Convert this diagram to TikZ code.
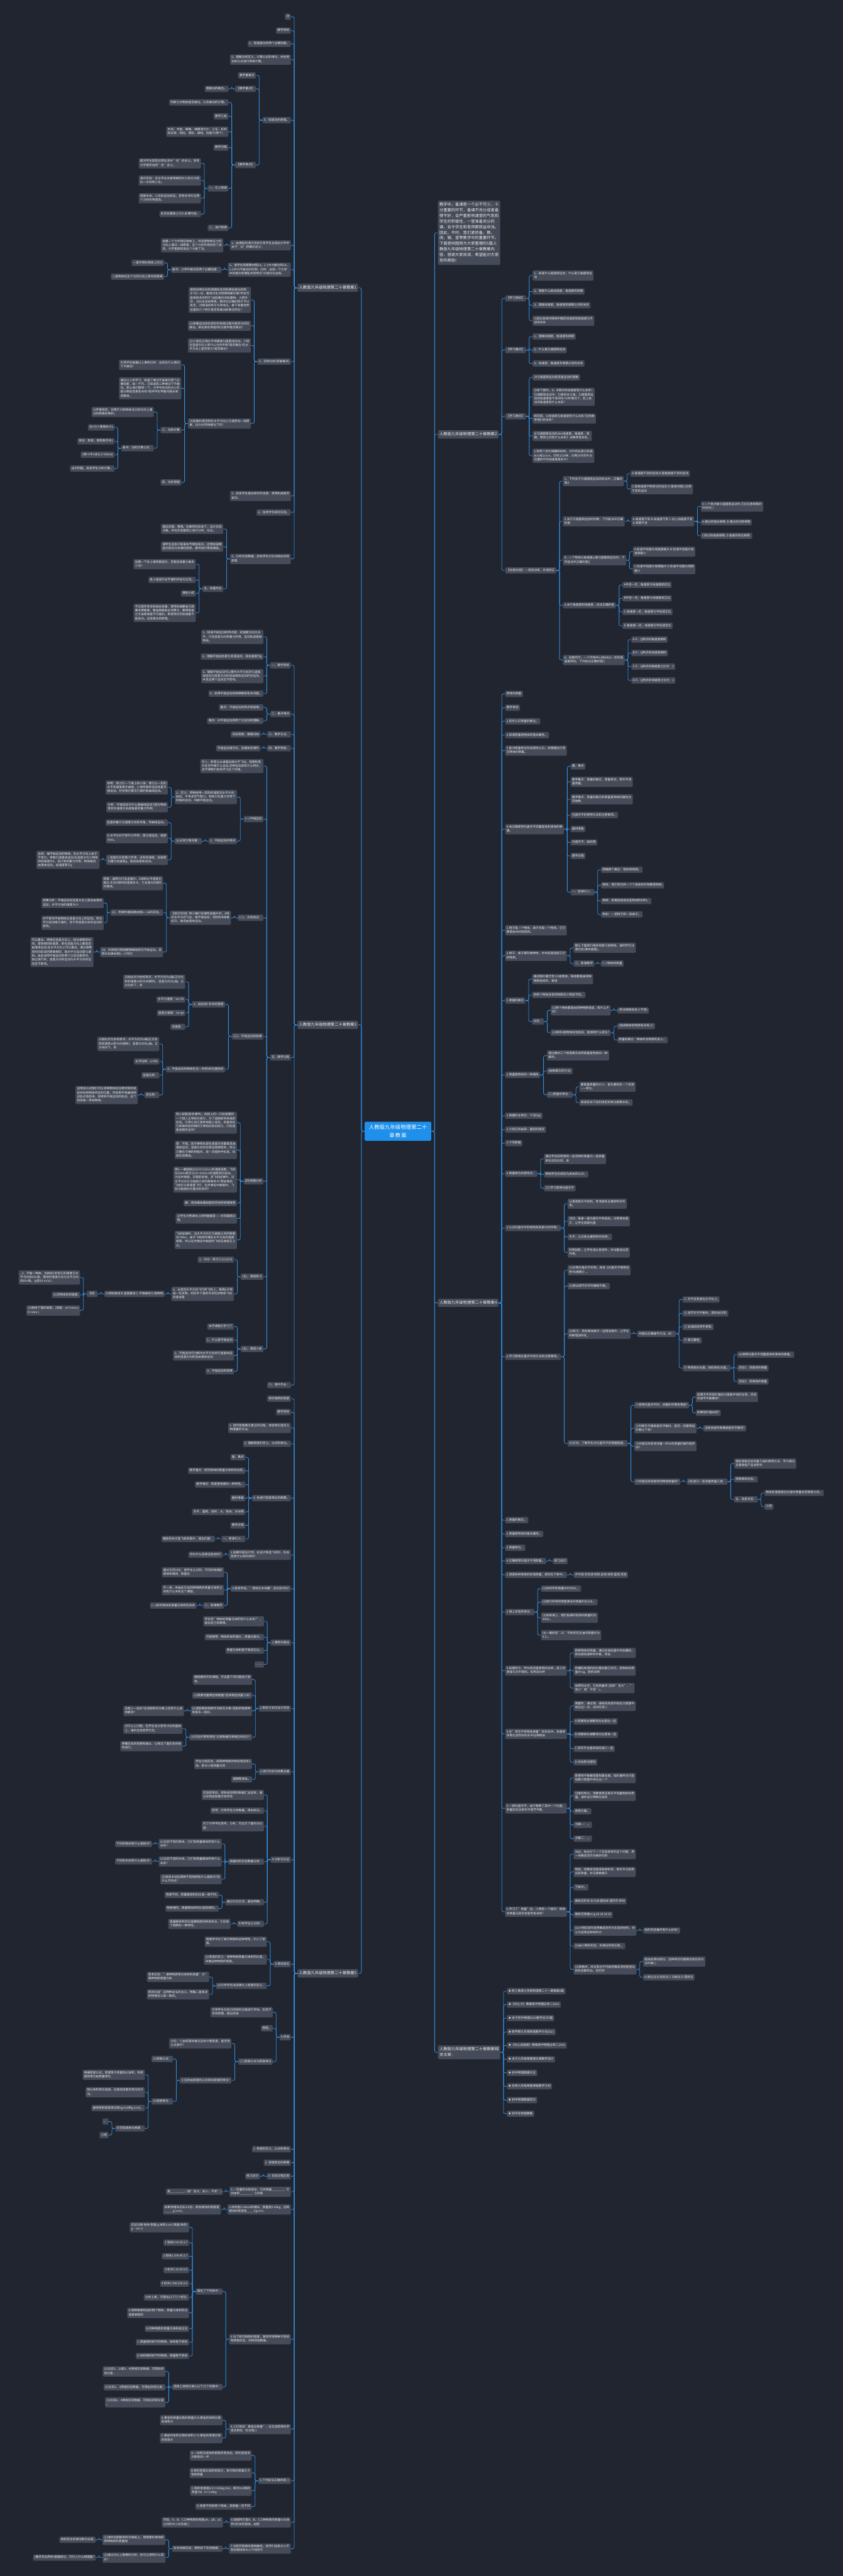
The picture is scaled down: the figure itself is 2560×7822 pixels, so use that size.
\documentclass[tikz,border=0pt]{standalone}
\usepackage{fontspec}
\setmainfont{Noto Sans CJK SC}
\usepackage{varwidth}
\usepackage{tikz}
\XeTeXlinebreaklocale "zh"
\XeTeXlinebreakskip=0pt plus 1pt
\definecolor{bgdark}{HTML}{21252F}
\definecolor{nodegray}{HTML}{454B58}
\definecolor{linkblue}{HTML}{2F8FE3}
\definecolor{rootblue}{HTML}{1E8FEA}

\tikzset{
  leaf/.style={fill=nodegray, rounded corners=3pt, text=white!92!black,
    font=\fontsize{9}{12}\selectfont, inner xsep=4.5pt, inner ysep=3.5pt,
    execute at begin node={\begin{varwidth}{184pt}\raggedright\strut},
    execute at end node={\strut\end{varwidth}}},
  branch/.style={leaf, font=\fontsize{12}{17}\selectfont, inner ysep=4pt},
  intro/.style={branch},
  root/.style={fill=rootblue, rounded corners=4pt, text=white,
    font=\fontsize{16}{24}\selectfont, align=center, text width=180pt,
    minimum width=202pt, minimum height=58pt},
  link/.style={draw=linkblue, line width=1.6pt, rounded corners=5pt},
}

% child to the right of its parent
\newcommand{\kidR}[5][leaf]{%
  \path (#3.east) ++(20pt,0) coordinate (tx);
  \coordinate (ty) at (0,#4);
  \node[#1, anchor=west] (#2) at (tx |- ty) {#5};
  \draw[link] (#3.east) -- ++(10pt,0) |- (#2.west);}
% child to the left of its parent
\newcommand{\kidL}[5][leaf]{%
  \path (#3.west) ++(-20pt,0) coordinate (tx);
  \coordinate (ty) at (0,#4);
  \node[#1, anchor=east] (#2) at (tx |- ty) {#5};
  \draw[link] (#3.west) -- ++(-10pt,0) |- (#2.east);}

\begin{document}
\begin{tikzpicture}[x=1pt,y=-1pt]
\fill[bgdark] (0,0) rectangle (2560,7822);
\node[root] (root) at (1209,3435) {人教版九年级物理第二十\\章教案};

% ---------- right side ----------
\kidR[intro]{I}{root}{707}{教学中，备课是一个必不可少、十分重要的环节，备课不充分或者备得不好，会严重影响课堂的气氛和学生的积极性，一堂准备充分的课，会令学生和老师都获益非浅。因此，平时，我们紧抓备、教、改、辅、查等教学中的重要环节。下面是树图网为大家整理的5篇人教版九年级物理第二十章教案内容，感谢大家阅读，希望能对大家有所帮助!}

\kidR[branch]{B}{root}{1319}{人教版九年级物理第二十章教案2}
\kidR{B1}{B}{906}{【学习目标】}
  \kidR{B11}{B1}{837}{1、知道什么是圆周运动，什么是匀速圆周运动}
  \kidR{B12}{B1}{885}{2、理解什么是线速度、角速度和周期}
  \kidR{B13}{B1}{927}{3、理解线速度、角速度和周期之间的关系}
  \kidR{B14}{B1}{974}{4.能在具体的情境中确定线速度和角速度与半径的关系}
\kidR{B2}{B}{1063}{【学习重点】}
  \kidR{B21}{B2}{1022}{1、理解线速度、角速度和周期}
  \kidR{B22}{B2}{1063}{2、什么是匀速圆周运动}
  \kidR{B23}{B2}{1104}{3、线速度、角速度及周期之间的关系}
\kidR{B3}{B}{1264}{【学习难点】}
  \kidR{B31}{B3}{1146}{对匀速圆周运动是变速运动的理解}
  \kidR{B32}{B3}{1205}{分析下图中，A、B两点的线速度有什么关系?匀速圆周运动中，匀速的含义是。匀速圆周运动的线速度是不变的吗?分析情况下，轮上各点的角速度有什么关系?}
  \kidR{B33}{B3}{1271}{探究四、1)线速度与角速度有什么关系?怎样推导他们的关系?}
  \kidR{B34}{B3}{1324}{2)匀速圆周运动的den线速度，角速度，周期，频率之间有什么关系》试推导其关系。}
  \kidR{B35}{B3}{1384}{1.有两个走时准确的始终，分针的长度分别是8cm和10cm，历经15分钟，问两分针的叶尖位置的平均线速度是多大?}
\kidR{B4}{B}{1732}{【当堂检测】----有效训练、反馈矫正}
  \kidR{B41}{B4}{1461}{1、下列关于匀速圆周运动的说法中，正确的是()}
    \kidR{B411}{B41}{1438}{A.是速度不变的运动 B.是角速度不变的运动}
    \kidR{B412}{B41}{1485}{C.是角速度不断变化的运动 D.是相对圆心位移不变的运动}
  \kidR{B42}{B4}{1583}{2.关于匀速圆周运动的判断，下列说法中正确的是}
    \kidR{B421}{B42}{1583}{A.角速度不变 B.线速度不变 C.向心加速度不变 D.周期不变}
      \kidR{B4211}{B421}{1538}{3 一个质点做匀速圆周运动时,它在任意相等的时间内( )}
      \kidR{B4212}{B421}{1586}{A 通过的弧长相等; B 通过的位移相等}
      \kidR{B4213}{B421}{1627}{C转过的角度相等; D 速度的变化相等.}
  \kidR{B43}{B4}{1701}{4、一个物体以角速度ω做匀速圆周运动时，下列说法中正确的是()}
    \kidR{B431}{B43}{1675}{A.轨道半径越大线速度越大 B.轨道半径越大线速度越小}
    \kidR{B432}{B43}{1728}{C.轨道半径越大周期越大 D.轨道半径越大周期越小}
  \kidR{B44}{B4}{1838}{5.关于角速度和线速度，说法正确的是}
    \kidR{B441}{B44}{1776}{A半径一定，角速度与线速度成反比}
    \kidR{B442}{B44}{1817}{B半径一定，角速度与线速度成正比}
    \kidR{B443}{B44}{1858}{C.线速度一定，角速度与半径成正比}
    \kidR{B444}{B44}{1900}{D.角速度一定，线速度与半径成反比}
  \kidR{B45}{B4}{2004}{6、如图所示，一个环绕中心线AB以一定的角速度转动，下列说法正确的是()}
    \kidR{B451}{B45}{1942}{A.P、Q两点的角速度相同}
    \kidR{B452}{B45}{1983}{B.P、Q两点的线速度相同}
    \kidR{B453}{B45}{2024}{C.P、Q两点的角速度之比为：1}
    \kidR{B454}{B45}{2066}{D.P、Q两点的线速度之比为：1}

\kidR[branch]{D}{root}{3956}{人教版九年级物理第二十章教案4}
\kidR{D01}{D}{2107}{物体的质量}
\kidR{D02}{D}{2149}{教学目标}
\kidR{D03}{D}{2190}{1.初步认识质量的概念。}
\kidR{D04}{D}{2232}{2.知道质量是物体的基本属性。}
\kidR{D05}{D}{2279}{3.能对质量单位形成感性认识，会粗略估计常见物体的质量。}
\kidR{D06}{D}{2518}{4.会正确使用托盘天平测量固体和液体的质量。}
  \kidR{D061}{D06}{2327}{重、难点}
  \kidR{D062}{D06}{2374}{教学重点：质量的概念，质量单位，用天平测量质量。}
  \kidR{D063}{D06}{2427}{教学难点：质量的概念和质量是物体的属性比较抽象;}
  \kidR{D064}{D06}{2475}{托盘天平的使用方法和注意事项。}
  \kidR{D065}{D06}{2517}{器材准备}
  \kidR{D066}{D06}{2558}{托盘天平、砝码等}
  \kidR{D067}{D06}{2599}{教学过程}
  \kidR{D068}{D06}{2709}{一、新课引入：}
    \kidR{D0681}{D068}{2641}{明确两个概念：物体和物质。}
    \kidR{D0682}{D068}{2688}{物体：我们常见的一个个具体的实物都是物体;}
    \kidR{D0683}{D068}{2736}{物质：则是指组成这些物体的材料。}
    \kidR{D0684}{D068}{2777}{例如：一把椅子和一张桌子。}
\kidR{D07}{D}{2825}{1.椅子是一个物体，桌子也是一个物体，它们都是由木材组成的。}
\kidR{D08}{D}{2902}{2.椅子、桌子都叫做物体，木材就是组成它们的物质。}
  \kidR{D081}{D08}{2878}{那么下面我们再来观察几组物体，请同学们注意比较(课本插图)。}
  \kidR{D082}{D08}{2926}{二、新课教学}
    \kidR{D0821}{D082}{2926}{(一)物体的质量}
\kidR{D09}{D}{3038}{1.质量的概念}
  \kidR{D091}{D09}{2973}{通过图片展示至少3组物体，每组都是由同种物质组成的，每组}
  \kidR{D092}{D09}{3021}{的两个物体含有的物质多少明显不同。}
  \kidR{D093}{D09}{3102}{比较：}
    \kidR{D0931}{D093}{3068}{(1)两个物体都是由同种物质组成，有什么不同?}
      \kidR{D09311}{D0931}{3068}{(所含物质的多少不同)}
    \kidR{D0932}{D093}{3136}{(2)再将3组物体综合起来，能得到什么结论?}
      \kidR{D09321}{D0932}{3116}{(组成物体的物质有多有少)}
      \kidR{D09322}{D0932}{3158}{质量的概念：物体所含物质的多少。}
\kidR{D10}{D}{3264}{2.质量是物体的一种属性}
  \kidR{D101}{D10}{3205}{通过教材三个物理事实说明质量是物体的一种属性。}
  \kidR{D102}{D10}{3252}{(抽象概念的方法)}
  \kidR{D103}{D10}{3324}{(二)质量的单位：}
    \kidR{D1031}{D103}{3300}{要衡量质量的大小，首先要规定一个标准——单位。}
    \kidR{D1032}{D103}{3348}{阅读有关千克的规定和单位换算关系。}
\kidR{D11}{D}{3388}{1.质量的主单位：千克(kg)}
\kidR{D12}{D}{3430}{2.介绍它的由来：最初的规定}
\kidR{D13}{D}{3471}{3.千克原器}
\kidR{D14}{D}{3564}{4.质量单位的感性化：}
  \kidR{D141}{D14}{3519}{通过学生较熟悉的一些实物的质量与一些质量单位近似比较，来}
  \kidR{D142}{D14}{3566}{帮助学生形成较为具体的认识。}
  \kidR{D143}{D14}{3608}{(三)学习使用托盘天平}
\kidR{D15}{D}{3729}{1.认识托盘天平的结构及各部分的作用。}
  \kidR{D151}{D15}{3655}{认真观察天平结构，弄清楚各主要部件的作用。}
  \kidR{D152}{D15}{3708}{活动：每桌一套托盘天平和砝码，对照课本图示，让学生观察托盘}
  \kidR{D153}{D15}{3756}{天平，认识各主要部件的名称。}
  \kidR{D154}{D15}{3803}{利用投影，让学生指认各部件，并试着说出其作用。}
\kidR{D16}{D}{4120}{2.学习使用托盘天平的方法和注意事项。}
  \kidR{D161}{D16}{3857}{(1)对照托盘天平实物，阅读《托盘天平使用说明书(摘要)》。}
  \kidR{D162}{D16}{3905}{(2)尝试调节天平的横梁平衡。}
  \kidR{D163}{D16}{4050}{(3)练习：用多媒体展示一些错误操作，让学生判断错误所在,}
    \kidR{D1631}{D163}{4050}{并提出正确操作方法。如：}
      \kidR{D16311}{D1631}{3946}{① 天平没有放在水平台上;}
      \kidR{D16312}{D1631}{3988}{② 调节天平平衡时，游码未归零;}
      \kidR{D16313}{D1631}{4029}{③ 加减砝码用手拿取;}
      \kidR{D16314}{D1631}{4070}{④ 超过量程;}
      \kidR{D16315}{D1631}{4154}{⑤ 物体放在右盘，砝码放在左盘。}
        \kidR{D163151}{D16315}{4113}{(a)使用托盘天平测量固体和液体的质量。}
        \kidR{D163152}{D16315}{4154}{活动1：测固体的质量}
        \kidR{D163153}{D16315}{4195}{活动2：测液体的质量}
  \kidR{D164}{D16}{4383}{(4)交流，了解学生对托盘天平的掌握程度。}
    \kidR{D1641}{D164}{4267}{①使用托盘天平时，关键的步骤有哪些?}
      \kidR{D16411}{D1641}{4242}{如果天平的指针偏向分度盘中线的左侧，应如何调节平衡螺母?}
      \kidR{D16412}{D1641}{4290}{如果指针偏右呢?}
    \kidR{D1642}{D164}{4337}{②判断天平横梁是否平衡时，是否一定要等指针静止下来?}
      \kidR{D16421}{D1642}{4337}{怎样快速判断横梁是否平衡呢?}
    \kidR{D1643}{D164}{4391}{③你是怎样安排测量一杯水的质量的操作程序的?}
    \kidR{D1644}{D164}{4499}{④你是怎样读取待测物体质量的?}
      \kidR{D16441}{D1644}{4499}{(四)其它一些测量质量工具：}
        \kidR{D164411}{D16441}{4444}{课后调查这些测量工具的使用方法，学习通过互联网或产品说明书}
        \kidR{D164412}{D16441}{4492}{获取相关信息。}
        \kidR{D164413}{D16441}{4553}{五、信息浏览：}
          \kidR{D1644131}{D164413}{4533}{物体的速度接近光速时质量会变得极大的。}
          \kidR{D1644132}{D164413}{4575}{小结}
\kidR{D17}{D}{4616}{1.质量的概念。}
\kidR{D18}{D}{4658}{2.质量是物体的基本属性。}
\kidR{D19}{D}{4700}{3.质量单位。}
\kidR{D20}{D}{4740}{4.正确使用托盘天平测质量。}
  \kidR{D201}{D20}{4740}{练习设计}
\kidR{D21}{D}{4782}{1.调查各种球类的标准质量，填写在下表中。}
  \kidR{D211}{D21}{4782}{乒乓球 羽毛球 网球 垒球 排球 篮球 足球}
\kidR{D22}{D}{4895}{2.填上合适的单位：}
  \kidR{D221}{D22}{4824}{(1)你同学的质量大约为60 。}
  \kidR{D222}{D22}{4865}{(2)我们所用的物理课本的质量约为200 。}
  \kidR{D223}{D22}{4912}{(3)体育课上，我们投掷的铅球的质量约为4000 。}
  \kidR{D224}{D22}{4965}{(4)一桶标有"5L"字样的花生油的质量约为4.2 。}
\kidR{D23}{D}{5073}{3.如图所示，甲为商店里使用的台秤，其工作原理与天平相同。现用该台秤}
  \kidR{D231}{D23}{5019}{称某物体的质量，通过在砝码盘中添加槽码，移动游码使秤杆平衡，所加}
  \kidR{D232}{D23}{5073}{的槽码和游码的位置如图乙所示，该物体的质量为 kg。若把该物}
  \kidR{D233}{D23}{5126}{体带到太空，它的质量将 (选择"变大"、"变小"或"不变")。}
\kidR{D24}{D}{5265}{4.在"用天平称物体质量"的实验中，张强同学用已调节好的天平在称物体}
  \kidR{D241}{D24}{5180}{质量时，通过增、减砝码后指针指在分度盘中线左边一点，这时应该( )}
  \kidR{D242}{D24}{5227}{A.把横梁右端螺母向右旋出一些}
  \kidR{D243}{D24}{5268}{B.把横梁右端螺母向左旋进一些}
  \kidR{D244}{D24}{5310}{C.把天平右盘的砝码减少一些}
  \kidR{D245}{D24}{5351}{D.向右移动游码}
\kidR{D25}{D}{5491}{5.一架托盘天平，由于更换了其中一个托盘，称量前无法把天平调节平衡，}
  \kidR{D251}{D25}{5399}{即使把平衡螺母旋到最右端，指针最终也只能指着分度盘中央左边一个}
  \kidR{D252}{D25}{5453}{分度的地方。现要使用这架天平测量物体的质量，请你设计两种应急的}
  \kidR{D253}{D25}{5500}{使用方案。}
  \kidR{D254}{D25}{5541}{方案一： 。}
  \kidR{D255}{D25}{5583}{方案二： 。}
\kidR{D26}{D}{5805}{6.学习了"质量"后，小明有一个疑问：物体的质量与其形状是否有关呢?}
  \kidR{D261}{D26}{5630}{为此，他设计了一个实验来探究这个问题：用一块橡皮泥作为被研究的}
  \kidR{D262}{D26}{5684}{物体，将橡皮泥捏成各种形状，用天平分别称出其质量，并记录数据于}
  \kidR{D263}{D26}{5731}{下表中。}
  \kidR{D264}{D26}{5773}{橡皮泥形状 长方体 圆柱体 圆环形 碎块}
  \kidR{D265}{D26}{5814}{橡皮泥质量m/g 28 28 28 28}
  \kidR{D266}{D26}{5862}{(1)小明实验时选用橡皮泥作为实验的材料，你认为选用这种材料对}
    \kidR{D2661}{D266}{5862}{他的实验操作有什么好处?}
  \kidR{D267}{D26}{5909}{(2)由小明的实验，你得出的结论是 。}
  \kidR{D268}{D26}{5980}{(3)表格中，并没有也不可能将橡皮泥所能捏出的形状都列出，但仍然}
    \kidR{D2681}{D268}{5956}{能由此得出结论，这种研究问题得出结论的方法叫做( )}
    \kidR{D2682}{D268}{6004}{A.类比法 B.综合法 C.归纳法 D.等效法}

\kidR[branch]{F}{root}{6232}{人教版九年级物理第二十章教案相关文章：}
\kidR{F1}{F}{6046}{★ 新人教版九年级物理第二十一章教案5篇}
\kidR{F2}{F}{6087}{★《向心力》教案高中物理必修二2021}
\kidR{F3}{F}{6128}{★ 关于初中物理2021教学设计5篇}
\kidR{F4}{F}{6170}{★ 新学期九年级物理教学计划2021}
\kidR{F5}{F}{6211}{★《向心加速度》教案高中物理必修二2021}
\kidR{F6}{F}{6253}{★ 关于九年级物理理论课教学设计}
\kidR{F7}{F}{6294}{★ 初中物理教案大全}
\kidR{F8}{F}{6335}{★ 优秀九年级物理课程教学计划}
\kidR{F9}{F}{6377}{★ 初中物理教案范文}
\kidR{F10}{F}{6418}{★ 初中生物理教案}

% ---------- left side ----------
\kidL[branch]{A}{root}{874}{人教版九年级物理第二十章教案1}
\kidL{A01}{A}{51}{功}
\kidL{A02}{A}{93}{教学目标}
\kidL{A03}{A}{133}{1、知道做功的两个必要因素。}
\kidL{A04}{A}{181}{2、理解功的定义、计算公式和单位，并会用功的公式进行简单计算。}
\kidL{A05}{A}{365}{3、知道功的原理。}
  \kidL{A051}{A05}{229}{教学重难点}
  \kidL{A052}{A05}{270}{【教学重点】}
    \kidL{A0521}{A052}{270}{理解功的概念。}
  \kidL{A053}{A05}{501}{【教学难点】}
    \kidL{A0531}{A053}{311}{判断力对物体是否做功，以及做功的计算。}
    \kidL{A0532}{A053}{353}{教学工具}
    \kidL{A0533}{A053}{400}{木块、木板、细绳、弹簧测力计、小车，杠杆和支架、钩码、滑轮、细线、刻度尺(两个)}
    \kidL{A0534}{A053}{448}{教学过程}
    \kidL{A0535}{A053}{572}{一、引入新课}
      \kidL{A05351}{A0535}{496}{提问学生回答日常生活中"功"的含义。思考力学里所说的"功"含义。}
      \kidL{A05352}{A0535}{548}{演示实验：在水平长木板用相同大小的力分别拉一木块和小车。}
      \kidL{A05353}{A0535}{602}{观察木块、小车的运动状态，思考并评价这两个力的作用成效。}
      \kidL{A05354}{A0535}{650}{在实验基础上引入本课内容。}
    \kidL{A0536}{A053}{692}{二、进行新课}
\kidL{A06}{A}{745}{1、由课前的演示实验引导学生总结出力学中关于"功"的确切含义：}
  \kidL{A061}{A06}{745}{如果一个力作用在物体上，并且使物体在力的方向上通过一段距离，这个力的作用就有了成效，力学里面就说这个力做了功。}
\kidL{A07}{A}{819}{2、请学生观察教材图14。1-1中力做功和14。1-2中力不做功的实例，分析、总结一下力学中的做功有哪些共同特点?分组讨论总结。}
  \kidL{A071}{A07}{819}{板书：力学中做功的两个必要因素：}
    \kidL{A0711}{A071}{798}{一是作用在物体上的力}
    \kidL{A0712}{A071}{840}{二是物体在这个力的方向上移动的距离}
\kidL{A08}{A}{1098}{3、实例分析(突破难点)}
  \kidL{A081}{A08}{911}{举例说明在你的周围你发现有哪些做功的例子?比一比，看谁对生活观察得最仔细?学生可能举很多的例子?如起重机吊起重物、火箭升空、马拉车前进等等。教师对正确的例子予以肯定，对错误的例子引导改正。接下来看老师这里的几个例子是否有做功的情况存在?}
  \kidL{A082}{A08}{989}{(1)举重运动员在把杠铃举高过程中是否对杠铃做功。举在高处停留5秒过程中是否做功?}
  \kidL{A083}{A08}{1049}{(2)小球在光滑水平地面做匀速直线运动。小球在竖直方向上受什么力的作用?是否做功?在水平方向上是否受力?是否做功?}
  \kidL{A084}{A08}{1286}{(3)起重机使货物在水平方向上匀速移动一段距离，拉力对货物做功了吗?}
    \kidL{A0841}{A084}{1108}{引导学生根据以上事例分析、总结在什么情况下不做功?}
    \kidL{A0842}{A084}{1179}{通过以上的学习，知道了做功不能离开两个必要因素，缺一不可，又知道有三种情况下不做功。那么我们猜想一下，力学中的功的大小可能与哪些因素有关呢?指导学生带着问题去阅读教材。}
    \kidL{A0843}{A084}{1306}{三、功的计算}
      \kidL{A08431}{A0843}{1251}{力学里规定，功等于力和物体沿力的方向上通过的距离的乘积。}
      \kidL{A08432}{A0843}{1361}{板书：功的计算公式：}
        \kidL{A084321}{A08432}{1298}{功=力×距离W=Fs}
        \kidL{A084322}{A08432}{1340}{单位：焦耳，简称焦符号J}
        \kidL{A084323}{A08432}{1381}{1焦=1牛o米(1J=1Nom)}
        \kidL{A084324}{A08432}{1423}{出示例题，启发学生分析计算。}
    \kidL{A0844}{A084}{1465}{四、功的原理}
\kidL{A09}{A}{1506}{1、启发学生提出探究的话题：使用机械是否省功。}
\kidL{A10}{A}{1556}{2、指导学生探究实验。}
\kidL{A11}{A}{1697}{3、分析实验数据，启发学生讨论归纳出功的原理}
  \kidL{A111}{A11}{1606}{提出问题，猜想。在教师的启发下，设计实验方案，并在实验基础上进行分析、论证。}
  \kidL{A112}{A11}{1660}{请学生谈自己知道本节哪些知识，还想知道哪些内容及对本课的感受，教师进行情感激励。}
  \kidL{A113}{A11}{1788}{五、布置作业}
    \kidL{A1131}{A113}{1713}{估算一下你上楼到教室时，克服自身重力做多少功?}
    \kidL{A1132}{A113}{1761}{各小组进行本节课的评估与交流。}
    \kidL{A1133}{A113}{1802}{课后小结}
    \kidL{A1134}{A113}{1861}{不论是否考虑机械本身重，使用机械要省力就要多费距离，要省距离就必须费力，要想既省力又省距离是不可能的。即使用任何机械都不能省功。这就是功的原理。}

\kidL[branch]{C}{root}{3112}{人教版九年级物理第二十章教案3}
\kidL{C1}{C}{2020}{一、教学目标}
  \kidL{C11}{C1}{1934}{1、知道平抛运动的特点是：初速度方向为水平，只在竖直方向受重力作用，运动轨迹是抛物线。}
  \kidL{C12}{C1}{1994}{2、理解平抛运动是匀变速运动，其加速度为g}
  \kidL{C13}{C1}{2053}{3、理解平抛运动可以看作水平方向的匀速直线运动与竖直方向的自由落体运动的合运动，并且这两个运动互不影响。}
  \kidL{C14}{C1}{2106}{4、会用平抛运动的规律解答有关问题。}
\kidL{C2}{C}{2168}{二、重点难点}
  \kidL{C21}{C2}{2148}{重点：平抛运动的特点和规律。}
  \kidL{C22}{C2}{2189}{难点：对平抛运动的两个分运动的理解。}
\kidL{C3}{C}{2230}{三、教学方法：}
  \kidL{C31}{C3}{2230}{实验观察、推理归纳}
\kidL{C4}{C}{2272}{四、教学用具：}
  \kidL{C41}{C4}{2272}{平抛运动演示仪、多媒体及课件}
\kidL{C5}{C}{3211}{五、教学过程}
  \kidL{C51}{C5}{2326}{引入：粉笔头从桌面边缘水平飞出，观察粉笔头在空中做什么运动,这种运动具有什么特点，本节课我们就来学习这个问题。}
  \kidL{C52}{C5}{2487}{(一)平抛运动}
    \kidL{C521}{C52}{2420}{1、定义：将物体用一定的初速度沿水平方向抛出，不考虑空气阻力，物体只在重力作用下所做的运动，叫做平抛运动。}
      \kidL{C5211}{C521}{2391}{举例：用力打一下桌上的小球，使它以一定的水平初速度离开桌面，小球所做的运动就是平抛运动，并且我们看见它做的是曲线运动。}
      \kidL{C5212}{C521}{2451}{分析：平抛运动为什么是曲线运动?(因为物体受到与速度方向成角度的重力作用)}
    \kidL{C522}{C52}{2554}{2、平抛运动的特点}
      \kidL{C5221}{C522}{2554}{(1)从受力情况看：}
        \kidL{C52211}{C5221}{2498}{竖直的重力与速度方向有夹角，作曲线运动。}
        \kidL{C52212}{C5221}{2545}{b.水平方向不受外力作用，是匀速运动，速度为V0。}
        \kidL{C52213}{C5221}{2611}{c.竖直方向受重力作用，没有初速度，加速度为重力加速度g，是自由落体运动。}
          \kidL{C522131}{C52213}{2611}{总结：做平抛运动的物体，在水平方向上由于不受力，将做匀速直线运动;在竖直方向上物体的初速度为0，且只受到重力作用，物体做自由落体运动。加速度等于g}
  \kidL{C53}{C5}{2787}{(二)、实验验证：}
    \kidL{C531}{C53}{2787}{【演示实验】用小锤打击弹性金属片时，A球向水平方向飞出，做平抛运动，而同时B球被松开，做自由落体运动。}
      \kidL{C5311}{C531}{2682}{现象：越用力打击金属片，A球的水平速度也越大;无论A球的初速度多大，它总是与B球同时落地。}
      \kidL{C5312}{C531}{2771}{(2)、用课件模拟课本图5—16的实验。}
        \kidL{C53121}{C5312}{2742}{结果分析：平抛运动在竖直方向上是自由落体运动，水平方向的速度大小}
        \kidL{C53122}{C5312}{2802}{并不影响平抛物体在竖直方向上的运动。而水平分运动是匀速的，且不受竖直方向的运动的影响。}
      \kidL{C5313}{C531}{2891}{(3)、利用频闪照相更精细地研究平抛运动。其照片如课本图5—17所示}
        \kidL{C53131}{C5313}{2891}{可以看出，两球在竖直方向上，经过相等的时间，落到相同的高度，即在竖直方向上都是自由落体运动;在水平方向上可以看出，通过相等的时间前进的距离相同，既水平分运动是匀速的。由此说明平抛运动的两个分运动是同时、独立进行的，竖直方向的运动与水平方向的运动互不影响。}
  \kidL{C54}{C5}{3147}{(三)、平抛运动的规律}
    \kidL{C541}{C54}{3050}{1、抛出后t 秒末的速度}
      \kidL{C5411}{C541}{2981}{以抛出点为坐标原点，水平方向为x轴(正方向和初速度v0的方向相同)，竖直方向为y轴，正方向向下，则}
      \kidL{C5412}{C541}{3035}{水平分速度：Vx=V0}
      \kidL{C5413}{C541}{3076}{竖直分速度：Vy=gt}
      \kidL{C5414}{C541}{3118}{合速度：}
    \kidL{C542}{C54}{3247}{2、平抛运动的物体在任一时刻t的位置坐标}
      \kidL{C5421}{C542}{3170}{以抛出点为坐标原点，水平方向为x轴(正方向和初速度v0的方向相同)，竖直方向为y轴，正方向向下，则}
      \kidL{C5422}{C542}{3223}{水平位移：x=V0t}
      \kidL{C5423}{C542}{3265}{竖直位移：}
      \kidL{C5424}{C542}{3325}{合位移：}
        \kidL{C54241}{C5424}{3325}{运用该公式我们可以求得物体在任意时刻的坐标并找到物体所在的位置，然后用平滑曲线把这些点连起来，就得到平抛运动的轨迹，这个轨迹是一条抛物线。}
  \kidL{C55}{C5}{3587}{(四)例题分析}
    \kidL{C551}{C55}{3409}{例1.如图(结合课件)，树枝上的一只松鼠看到一个猎人正用枪对准它，为了逃脱即将来临的厄运，它想让自己落到地面上逃走。但是就在它掉离树枝的瞬间子弹恰好射出枪口，问松鼠能逃脱厄运吗?}
    \kidL{C552}{C55}{3492}{答：不能。因子弹和松鼠在竖直方向都是自由落体运动，竖直方向的位移总是相同的，所以只要在子弹的射程内，就一定能射中松鼠，松鼠在劫难逃。}
    \kidL{C553}{C55}{3582}{例2.一艘敌舰正以V1=12m/s的速度逃跑，飞机在320m高空以V2=105m/s的速度同向追击。为击中敌舰，应提前投弹。求飞机投弹时，沿水平方向它与敌舰之间的距离多大?若投弹后飞机仍以原速度飞行，在炸弹击中敌舰时，飞机与敌舰的位置关系如何?}
    \kidL{C554}{C55}{3653}{解：用多媒体模拟题目所述的物理情景}
    \kidL{C555}{C55}{3700}{让学生对照课本上的例题解答——书写解题过程。}
    \kidL{C556}{C55}{3765}{飞机投弹时，沿水平方向它与敌舰之间的距离位744m，由于飞机和炸弹在水平方向的速度相等，所以在炸弹击中敌舰时飞机在敌舰正上方。}
  \kidL{C56}{C5}{3877}{(五)、课堂练习}
    \kidL{C561}{C56}{3825}{1、讨论：练习三(1)(2)(3)}
    \kidL{C562}{C56}{3929}{2、从高空水平方向飞行的飞机上，每隔1分钟投一包货物，则空中下落的许多包货物和飞机的连线是}
      \kidL{C5621}{C562}{3929}{A.倾斜直线 B.竖直直线 C.平滑曲线 D.抛物线}
        \kidL{C56211}{C5621}{3929}{【B】}
          \kidL{C562111}{C56211}{3879}{\_3、平抛一物体，当抛出1秒后它的速度与水平方向成45o角，落地时速度方向与水平方向成60o角。(g取10 m/s2 )}
          \kidL{C562112}{C56211}{3932}{(1)求物体的初速度;}
          \kidL{C562113}{C56211}{3979}{(2)物体下落的高度。(答案：v0=10m/s h=15m )}
  \kidL{C57}{C5}{4096}{(五)、课堂小结}
    \kidL{C571}{C57}{4028}{本节课我们学习了}
    \kidL{C572}{C57}{4069}{1、什么是平抛运动}
    \kidL{C573}{C57}{4116}{2、平抛运动可分解为水平方向的匀速直线运动和竖直方向的自由落体运动}
    \kidL{C574}{C57}{4164}{3、平抛运动的规律}
\kidL{C6}{C}{4206}{六、课外作业：}

\kidL[branch]{E}{root}{5992}{人教版九年级物理第二十章教案5}
\kidL{E01}{E}{4247}{探究物质的密度}
\kidL{E02}{E}{4288}{教学目标}
\kidL{E03}{E}{4336}{1. 经历密度概念建立的过程，领会用比值定义物理量的方法。}
\kidL{E04}{E}{4384}{2. 理解密度的定义、公式和单位。}
\kidL{E05}{E}{4549}{3. 会进行密度单位的换算。}
  \kidL{E051}{E05}{4425}{重、难点}
  \kidL{E052}{E05}{4466}{教学重点：探究物体的质量与体积的关系;}
  \kidL{E053}{E05}{4508}{教学难点：密度是物质的一种特性。}
  \kidL{E054}{E05}{4549}{器材准备}
  \kidL{E055}{E05}{4591}{天平、量筒、烧杯、水、铁块、木块等}
  \kidL{E056}{E05}{4632}{教学过程}
  \kidL{E057}{E05}{4673}{一、新课引入：}
    \kidL{E0571}{E057}{4673}{播放有关大型飞机的图片，提出问题：}
\kidL{E06}{E}{4721}{1.如果你是设计师，在设计制造飞机时，你会选择什么样的材料?}
  \kidL{E061}{E06}{4721}{你为什么选择这些材料?}
\kidL{E07}{E}{4824}{2.有同学说，"铁块比木块重"这句话对吗?}
  \kidL{E071}{E07}{4774}{通过交流讨论，使学生认识到，不同的物质即使体积相同，质量也}
  \kidL{E072}{E07}{4828}{不一样，并由此引出同种物质的质量与体积之间有什么关系这个课题。}
  \kidL{E073}{E07}{4875}{二、新课教学}
    \kidL{E0731}{E073}{4875}{(一)探究物体的质量与体积的关系}
\kidL{E08}{E}{4988}{1.猜想与假设}
  \kidL{E081}{E08}{4923}{学生就"物体的质量与体积有什么关系?"，提出自己的猜想。}
  \kidL{E082}{E08}{4971}{可能猜想：物体的体积越大，质量也越大。}
  \kidL{E083}{E08}{5012}{质量与体积是不是成正比。}
  \kidL{E084}{E08}{5054}{……}
\kidL{E09}{E}{5188}{2.制定计划与设计实验}
  \kidL{E091}{E09}{5100}{围绕要探究的课题，可设置下列问题进行思考。}
  \kidL{E092}{E09}{5148}{(1)需要测量哪些物理量?选择哪些测量工具?}
  \kidL{E093}{E09}{5195}{(2)选取哪些物质作为研究对象?选取的物质种类是多一些好，}
    \kidL{E0931}{E093}{5195}{还是少一些好?在选取研究对象上还有什么具体要求?}
  \kidL{E094}{E09}{5275}{(3)实验步骤有哪些?记录数据的表格怎样设计?}
    \kidL{E0941}{E094}{5249}{对于以上问题，在学生充分思考讨论的基础上，组织全体同学交流。}
    \kidL{E0942}{E094}{5302}{明确实验的思路和做法，以保证下面实验的顺利进行。}
\kidL{E10}{E}{5380}{3.进行实验与收集证据}
  \kidL{E101}{E10}{5356}{学生分组实验，把同种物质的物块增加至3块，部分小组测量水和}
  \kidL{E102}{E10}{5403}{酒精等液体。}
\kidL{E11}{E}{5647}{4.分析与论证}
  \kidL{E111}{E11}{5450}{实验结束后，把各组测得的数据汇总起来，通过实物投影展示给所有}
  \kidL{E112}{E11}{5498}{同学，引导学生分析数据，得出结论。}
  \kidL{E113}{E11}{5545}{为了引导学生思考、分析，可出示下面的讨论题：}
  \kidL{E114}{E11}{5653}{根据你的实验数据分析：}
    \kidL{E1141}{E114}{5599}{(1)比较不同的铁块，它们的质量跟体积有什么关系?}
      \kidL{E11411}{E1141}{5599}{不同的铁块有什么相同点?}
    \kidL{E1142}{E114}{5652}{(2)比较不同的木块，它们的质量跟体积有什么关系?}
      \kidL{E11421}{E1142}{5652}{不同的木块有什么相同点?}
    \kidL{E1143}{E114}{5706}{(3)铁和木材这两种不同物质有什么相同点?有什么不同点?}
  \kidL{E115}{E11}{5776}{通过讨论交流，最后明确：}
    \kidL{E1151}{E115}{5754}{物质不同，质量跟体积的比值一般不同;}
    \kidL{E1152}{E115}{5795}{物质相同，质量跟体积的比值就相同。}
  \kidL{E116}{E11}{5842}{引导学生认识到：}
    \kidL{E1161}{E116}{5842}{质量跟体积的比值跟物质的种类有关，它反映了物质的一种特性。}
\kidL{E12}{E}{5964}{5.得出结论}
  \kidL{E121}{E12}{5896}{物理学中为了表示物质的这种特性，引入了密度。}
  \kidL{E122}{E12}{5950}{(1)密度的定义：某种物质质量与体积的比值，叫做这种物质的密度。}
  \kidL{E123}{E12}{6030}{(2)引导学生阅读课文上密度的定义，}
    \kidL{E1231}{E123}{6003}{思考比较："某种物质单位体积的质量"与"某种物质质量与体}
    \kidL{E1232}{E123}{6056}{积的比值"这两种说法的含义，明确二者表述的物理含义是一致的。}
\kidL{E13}{E}{6186}{6.评估}
  \kidL{E131}{E13}{6110}{引导学生对自己的探究过程进行评估，反思不足和疏漏，提出改进}
  \kidL{E132}{E13}{6159}{措施。}
  \kidL{E133}{E13}{6260}{(二)密度公式与密度单位}
    \kidL{E1331}{E133}{6205}{讨论：①由密度的概念怎样计算密度，能否用公式表示?}
    \kidL{E1332}{E133}{6317}{②怎样由密度的公式得出密度的单位?}
      \kidL{E13321}{E1332}{6252}{(1)密度公式：}
      \kidL{E13322}{E1332}{6381}{(2)密度单位：}
        \kidL{E133221}{E13322}{6300}{根据密度公式，密度等于质量除以体积，则密度的单位由质量单位}
        \kidL{E133222}{E13322}{6353}{除以体积单位组成，这是组成复合单位的方法。}
        \kidL{E133223}{E13322}{6401}{最常用的密度单位有kg/m3和g/cm3。}
        \kidL{E133224}{E13322}{6463}{示范密度单位换算：}
          \kidL{E1332241}{E133224}{6442}{，}
          \kidL{E1332242}{E133224}{6483}{小结}
\kidL{E14}{E}{6526}{1. 密度的定义、公式和单位}
\kidL{E15}{E}{6567}{2. 密度单位的换算}
\kidL{E16}{E}{6608}{3. 实验过程反思}
  \kidL{E161}{E16}{6608}{练习设计}
\kidL{E17}{E}{6655}{1.一定量的水结成冰，它的质量\_\_\_\_\_\_\_，它的体积\_\_\_\_\_\_\_，它的密}
  \kidL{E171}{E17}{6655}{度\_\_\_\_\_\_\_\_。(填"变大、变小、不变")}
\kidL{E18}{E}{6709}{2.体积是0.5dm3的蜡块，质量是0.45kg，这种蜡块的密度是\_\_\_\_ kg/m3，}
  \kidL{E181}{E18}{6709}{如果将蜡块切去3/4后，剩余蜡块的密度是\_\_\_\_\_g/cm3。}
\kidL{E19}{E}{7103}{3.为了研究物质的密度，某同学用两种不同的物质做实验，测得四组数据，}
  \kidL{E191}{E19}{6958}{填在了下列表中：}
    \kidL{E1911}{E191}{6763}{实验次数 物体 质量/g 体积/cm3 质量/体积/g•cm-3}
    \kidL{E1912}{E191}{6810}{1 铝块1 54 20 2.7}
    \kidL{E1913}{E191}{6851}{2 铝块2 108 40 2.7}
    \kidL{E1914}{E191}{6893}{3 松木1 10 20 0.5}
    \kidL{E1915}{E191}{6934}{4 松木2 108 216 0.5}
    \kidL{E1916}{E191}{6976}{分析上表，可得出以下几个结论.}
    \kidL{E1917}{E191}{7023}{A.同种物质构成的两个物体，质量与体积的比值是相同的}
    \kidL{E1918}{E191}{7071}{B.同种物质的质量与体积成正比}
    \kidL{E1919}{E191}{7112}{C.质量相同的不同物质，体积是不同的}
    \kidL{E19110}{E191}{7154}{D.体积相同的不同物质，质量是不同的}
  \kidL{E192}{E19}{7248}{选择上述结论填入以下几个空格中：}
    \kidL{E1921}{E192}{7201}{(1)比较1、2(或3、4)两组实验数据，可得出的结论是 、 ;}
    \kidL{E1922}{E192}{7249}{(2)比较1、3两组实验数据，可得出的结论是 ;}
    \kidL{E1923}{E192}{7295}{(3)比较2、4两组实验数据，可得出的结论是 。}
\kidL{E20}{E}{7376}{4.人们常说"黄金比铁重"，这句话若用科学语言表述，应当是( )}
  \kidL{E201}{E20}{7349}{A.黄金的质量比铁的质量大 B.黄金的体积比铁的体积大}
  \kidL{E202}{E20}{7403}{C.黄金的体积比铁的体积小 D.黄金的密度比铁的密度大}
\kidL{E21}{E}{7533}{5.下列说法正确的是 ( )}
  \kidL{E211}{E21}{7456}{A.一块砖切成体积相等的两块后，砖的密度变为原来的一半}
  \kidL{E212}{E21}{7509}{B.铁的密度比铝的密度大，表示铁的质量大于铝的质量}
  \kidL{E213}{E21}{7563}{C.铜的密度是8.9×103kg/m3，表示lm3铜的质量为8. 9×103kg}
  \kidL{E214}{E21}{7611}{D.密度不同的两个物体，其质量一定不同}
\kidL{E22}{E}{7659}{6.如图所示是A、B、C三种物质的质量m与体积V的关系图线。由图}
  \kidL{E221}{E22}{7659}{可知，A、B、C三种物质的密度ρA、ρB、ρC之间的大小关系是( )}
\kidL{E23}{E}{7739}{7.为研究物质的某种属性，同学们找来大小不同的蜡块和大小不同的干}
  \kidL{E231}{E23}{7739}{松木块做实验，得到如下实验数据：}
    \kidL{E2311}{E231}{7712}{(1)请你在图提供的方格纸上，用图像形象地把两种物质的质量随}
      \kidL{E23111}{E2311}{7712}{体积变化的情况表示出来;}
    \kidL{E2312}{E231}{7766}{(2)通过对以上图像的分析，你可以得到什么结论?}
      \kidL{E23121}{E2312}{7766}{(要求写出两条)根据结论，可引入什么物理量?}
\end{tikzpicture}
\end{document}
